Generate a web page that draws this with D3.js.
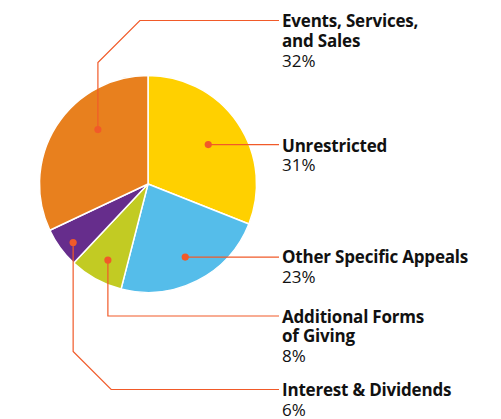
<!DOCTYPE html>
<html>
<head>
<meta charset="utf-8">
<script src="https://cdn.jsdelivr.net/npm/d3@7"></script>
<style>
  body { margin: 0; background: #fff; }
  svg { display: block; }
  .lbl { font-family: "Open Sans", Lato, sans-serif; font-size: 17px; fill: #111; }
  .lbl .name { font-weight: 700; letter-spacing: -0.2px; }
</style>
</head>
<body>
<svg width="501" height="419"></svg>
<script>
// slices, clockwise from 12 o'clock
var categories = ["Unrestricted", "Other Specific Appeals", "Additional Forms of Giving", "Interest & Dividends", "Events, Services, and Sales"];
var values = [31, 23, 8, 6, 32];
var labelLines = [["Unrestricted"], ["Other Specific Appeals"], ["Additional Forms", "of Giving"], ["Interest & Dividends"], ["Events, Services,", "and Sales"]];
var colors = ["#FFD000", "#55BDEA", "#C2CB23", "#662D8C", "#E8801E"];

// leader layout: dot radius, angle nudge (deg), label baseline y
var dotR = [72, 82, 86, 95, 74];
var nudge = [1, 0, -1, -2, 15];
var labelY = [151.5, 263, 322.5, 396, 27];

var svg = d3.select("svg"),
    cx = 148, cy = 184, radius = 108.5,
    labelX = 282, lineEnd = 279,
    leaderColor = "#F15A29";

var pie = d3.pie().sort(null).value(function(d) { return d; });
var arc = d3.arc().innerRadius(0).outerRadius(radius);
var arcs = pie(values);

var g = svg.append("g").attr("transform", "translate(" + cx + "," + cy + ")");

g.selectAll("path.slice")
  .data(arcs)
  .enter().append("path")
    .attr("class", "slice")
    .attr("d", arc)
    .attr("fill", function(d, i) { return colors[i]; })
    .attr("stroke", "#fff")
    .attr("stroke-width", 1.5)
    .attr("stroke-linejoin", "round");

function dotPos(d, i) {
  var a = (d.startAngle + d.endAngle) / 2 + nudge[i] * Math.PI / 180;
  return [cx + dotR[i] * Math.sin(a), cy - dotR[i] * Math.cos(a)];
}

// leader path: straight across, or down/up then across
function leader(d, i) {
  var p = dotPos(d, i), ly = labelY[i] - 6.5;
  var path = d3.path();
  path.moveTo(p[0], p[1]);
  if (Math.abs(p[1] - ly) < 2) {
    path.lineTo(lineEnd, p[1]);
  } else if (i === 2) {
    path.lineTo(p[0], ly);
    path.lineTo(lineEnd, ly);
  } else {
    var dy = ly > p[1] ? 1 : -1;
    var bend = i === 4 ? 42 : 38;
    path.lineTo(p[0], ly - dy * bend);
    path.lineTo(p[0] + bend, ly);
    path.lineTo(lineEnd, ly);
  }
  return path.toString();
}

svg.selectAll("path.leader")
  .data(arcs)
  .enter().append("path")
    .attr("class", "leader")
    .attr("d", leader)
    .attr("fill", "none")
    .attr("stroke", leaderColor)
    .attr("stroke-width", 1.2);

svg.selectAll("circle.dot")
  .data(arcs)
  .enter().append("circle")
    .attr("class", "dot")
    .attr("cx", function(d, i) { return dotPos(d, i)[0]; })
    .attr("cy", function(d, i) { return dotPos(d, i)[1]; })
    .attr("r", 3.6)
    .attr("fill", leaderColor);

var lbl = svg.selectAll("text.lbl")
  .data(arcs)
  .enter().append("text")
    .attr("class", "lbl")
    .attr("x", labelX)
    .attr("y", function(d, i) { return labelY[i]; });

lbl.each(function(d, i) {
  var t = d3.select(this);
  labelLines[i].forEach(function(s, k) {
    t.append("tspan").attr("class", "name").attr("x", labelX).attr("dy", k ? 19.8 : 0).text(s);
  });
  t.append("tspan").attr("x", labelX).attr("dy", 19.8).text(values[i] + "%");
});
</script>
</body>
</html>
